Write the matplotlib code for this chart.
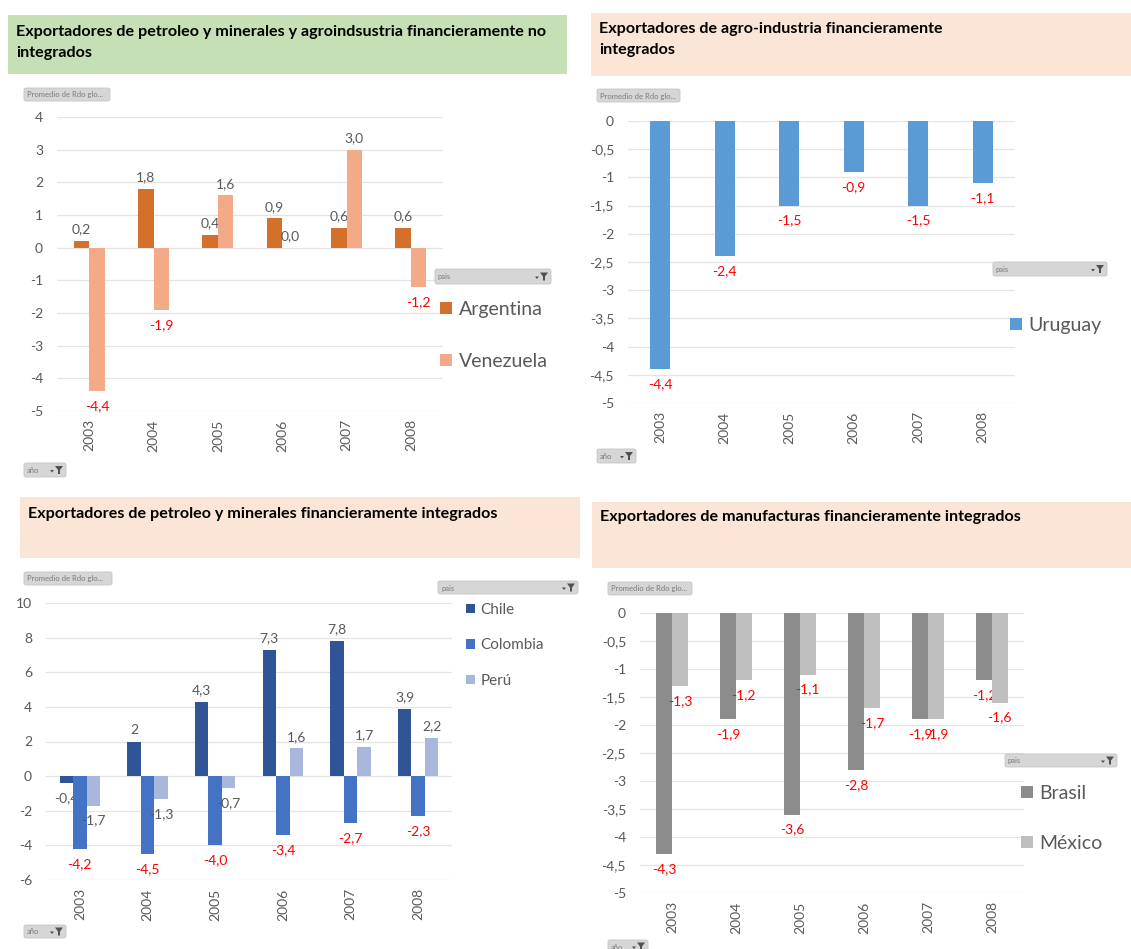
import numpy as np
import matplotlib
matplotlib.use("Agg")
import matplotlib.pyplot as plt
from matplotlib.patches import FancyBboxPatch, Rectangle, Polygon

plt.rcParams['font.family'] = ['Lato', 'DejaVu Sans']

W, H = 1131, 949

years = ['2003', '2004', '2005', '2006', '2007', '2008']

# petroleo/minerales/agroindustria no integrados
argentina = [0.2, 1.8, 0.4, 0.9, 0.6, 0.6]
venezuela = [-4.4, -1.9, 1.6, 0.0, 3.0, -1.2]

# agro-industria integrados
uruguay = [-4.4, -2.4, -1.5, -0.9, -1.5, -1.1]

# petroleo y minerales integrados
chile = [-0.4, 2.0, 4.3, 7.3, 7.8, 3.9]
colombia = [-4.2, -4.5, -4.0, -3.4, -2.7, -2.3]
peru = [-1.7, -1.3, -0.7, 1.6, 1.7, 2.2]

# manufacturas integrados
brasil = [-4.3, -1.9, -3.6, -2.8, -1.9, -1.2]
mexico = [-1.3, -1.2, -1.1, -1.7, -1.9, -1.6]

GRAY_TXT = '#595959'
RED = '#ff0000'

fig = plt.figure(figsize=(W / 100, H / 100), dpi=100)


def fx(x):
    return x / W


def fy(y):
    return 1 - y / H


def px_axes(x0, y0, x1, y1):
    return fig.add_axes([fx(x0), fy(y1), (x1 - x0) / W, (y1 - y0) / H])


def title_box(x0, y0, x1, y1, color, text, ty):
    fig.patches.append(Rectangle((fx(x0), fy(y1)), (x1 - x0) / W, (y1 - y0) / H,
                                 transform=fig.transFigure, facecolor=color,
                                 edgecolor='none', zorder=0))
    fig.text(fx(x0 + 8), fy(ty), text, fontsize=11.6, fontweight='bold',
             color='black', va='top', ha='left', linespacing=1.6)


def button(x0, y0, x1, y1, text, funnel=True):
    fig.patches.append(FancyBboxPatch((fx(x0), fy(y1)), (x1 - x0) / W, (y1 - y0) / H,
                                      boxstyle='round,pad=0,rounding_size=0.002',
                                      transform=fig.transFigure, facecolor='#d6d6d6',
                                      edgecolor='#c4c4c4', linewidth=0.6, zorder=1))
    fig.text(fx(x0 + 3), fy((y0 + y1) / 2 + 0.5), text, fontsize=5.5, color='#7a7a7a',
             va='center', ha='left', zorder=2)
    if funnel:
        cx, cy = x1 - 7, (y0 + y1) / 2
        pts = [(cx - 4, cy - 4), (cx + 4, cy - 4), (cx + 1, cy), (cx + 1, cy + 4),
               (cx - 1, cy + 4), (cx - 1, cy)]
        fig.patches.append(Polygon([(fx(a), fy(b)) for a, b in pts], closed=True,
                                   transform=fig.transFigure, facecolor='#505050',
                                   edgecolor='none', zorder=2))
        tri = [(cx - 9, cy), (cx - 5, cy), (cx - 7, cy + 2.5)]
        fig.patches.append(Polygon([(fx(a), fy(b)) for a, b in tri], closed=True,
                                   transform=fig.transFigure, facecolor='#505050',
                                   edgecolor='none', zorder=2))


def fmt1(v):
    return ('%.1f' % v).replace('.', ',')


def fmtg(v):
    return ('%g' % v).replace('.', ',')


def bar_panel(ax, series, names, colors, width, ylim, step, red_series,
              formats=None, tick_fmt=fmtg):
    x = np.arange(len(years))
    n = len(series)
    for i, (vals, c) in enumerate(zip(series, colors)):
        off = (i - (n - 1) / 2) * width
        b = ax.bar(x + off, vals, width, color=c, label=names[i], zorder=3)
        f = formats[i] if formats else fmt1
        texts = ax.bar_label(b, labels=[f(v) for v in vals], padding=4, fontsize=10)
        for t, v in zip(texts, vals):
            t.set_color(RED if (v < 0 and red_series[i]) else GRAY_TXT)
            if v < 0:
                t.xyann = (0, -6.5)
    ax.set_xlim(-0.5, len(years) - 0.5)
    ax.set_ylim(*ylim)
    ticks = np.arange(ylim[0], ylim[1] + step / 2, step)
    ax.set_yticks(ticks)
    ax.set_yticklabels([tick_fmt(round(t, 2)) for t in ticks])
    ax.set_xticks(x)
    ax.set_xticklabels(years, rotation=90)
    ax.tick_params(axis='both', length=0, colors=GRAY_TXT, labelsize=10)
    ax.tick_params(axis='y', pad=10)
    ax.tick_params(axis='x', pad=6)
    ax.grid(axis='y', color='#e4e4e4', linewidth=0.9, zorder=0)
    ax.set_axisbelow(True)
    for s in ax.spines.values():
        s.set_visible(False)


def legend(ax, x, y, size, spacing):
    ax.legend(loc='upper left', bbox_to_anchor=(fx(x), fy(y)),
              bbox_transform=fig.transFigure, frameon=False, fontsize=size,
              labelcolor=GRAY_TXT, handlelength=0.6, handleheight=0.6,
              handletextpad=0.35, labelspacing=spacing, borderpad=0, borderaxespad=0)


# ---- panel 1
title_box(8, 15, 567, 74, '#c5e0b4',
          'Exportadores de petroleo y minerales y agroindsustria financieramente no\nintegrados', 25)
ax1 = px_axes(57, 117, 443, 411)
bar_panel(ax1, [argentina, venezuela], ['Argentina', 'Venezuela'],
          ['#d2702c', '#f2aa89'], 0.24, (-5, 4), 1, [True, True])
button(24, 88, 110, 101, 'Promedio de Rdo glo...', funnel=False)
button(435, 269, 551, 284, 'pais')
button(24, 463, 66, 477, 'año')
legend(ax1, 440, 301, 14, 1.8)

# ---- panel 2
title_box(591, 13, 1131, 76, '#fbe5d6',
          'Exportadores de agro-industria financieramente\nintegrados', 22)
ax2 = px_axes(628, 121, 1015, 403)
bar_panel(ax2, [uruguay], ['Uruguay'], ['#5b9bd5'], 0.31, (-5, 0), 0.5, [True])
button(597, 89, 680, 102, 'Promedio de Rdo glo...', funnel=False)
button(993, 262, 1107, 276, 'pais')
button(597, 449, 636, 463, 'año')
legend(ax2, 1010, 317, 14, 1.0)

# ---- panel 3
title_box(20, 497, 580, 558, '#fbe5d6',
          'Exportadores de petroleo y minerales financieramente integrados', 507)
ax3 = px_axes(46, 603, 452, 880)
bar_panel(ax3, [chile, colombia, peru], ['Chile', 'Colombia', 'Perú'],
          ['#2f5597', '#4472c4', '#a9b7dc'], 0.2, (-6, 10), 2, [False, True, False],
          formats=[fmtg, fmt1, fmt1])
button(24, 572, 112, 585, 'Promedio de Rdo glo...', funnel=False)
button(438, 581, 578, 594, 'pais')
button(24, 925, 66, 938, 'año')
legend(ax3, 466, 603, 11, 1.4)

# ---- panel 4
title_box(592, 502, 1131, 568, '#fbe5d6',
          'Exportadores de manufacturas financieramente integrados', 510)
ax4 = px_axes(640, 613, 1024, 893)
bar_panel(ax4, [brasil, mexico], ['Brasil', 'México'], ['#8c8c8c', '#bfbfbf'],
          0.245, (-5, 0), 0.5, [True, True])
button(608, 582, 692, 595, 'Promedio de Rdo glo...', funnel=False)
button(1005, 754, 1117, 767, 'pais')
button(608, 940, 648, 953, 'año')
legend(ax4, 1021, 785, 14, 1.7)

fig.savefig('out.png', dpi=100)
